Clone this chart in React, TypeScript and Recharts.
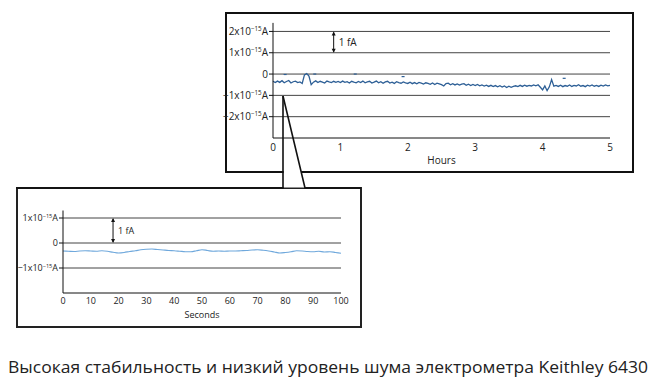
import React from "react"
import {
  ComposedChart,
  Line,
  LineChart,
  ReferenceLine,
  Scatter,
  XAxis,
  YAxis,
} from "recharts"

// long run, current in fA, sampled every 2 minutes over 5 hours
const TOP_VALUES = [
  -0.34, -0.4, -0.33, -0.39, -0.31, -0.41, -0.35, -0.3, -0.42, -0.36, -0.33, -0.4, -0.37, -0.44, -0.04,
  0.02, -0.1, -0.5, -0.38, -0.32, -0.4, -0.34, -0.38, -0.42, -0.33, -0.37, -0.4, -0.34, -0.39, -0.35,
  -0.4, -0.33, -0.39, -0.36, -0.42, -0.34, -0.38, -0.41, -0.35, -0.4, -0.33, -0.41, -0.37, -0.34, -0.42,
  -0.38, -0.33, -0.41, -0.36, -0.43, -0.37, -0.34, -0.42, -0.38, -0.44, -0.36, -0.4, -0.43, -0.37, -0.41,
  -0.44, -0.38, -0.45, -0.4, -0.46, -0.39, -0.43, -0.47, -0.41, -0.44, -0.48, -0.42, -0.49, -0.43, -0.46,
  -0.5, -0.56, -0.45, -0.43, -0.5, -0.45, -0.51, -0.46, -0.52, -0.47, -0.45, -0.53, -0.48, -0.54, -0.49,
  -0.54, -0.49, -0.55, -0.51, -0.56, -0.52, -0.58, -0.53, -0.59, -0.54, -0.6, -0.55, -0.61, -0.56, -0.63,
  -0.57, -0.62, -0.58, -0.55, -0.59, -0.53, -0.58, -0.52, -0.57, -0.53, -0.56, -0.51, -0.55, -0.5, -0.62,
  -0.74, -0.56, -0.78, -0.6, -0.26, -0.57, -0.53, -0.58, -0.52, -0.59, -0.54, -0.57, -0.51, -0.58, -0.53,
  -0.56, -0.5, -0.57, -0.54, -0.59, -0.52, -0.56, -0.51, -0.57, -0.53, -0.58, -0.52, -0.56, -0.51, -0.55,
  -0.53,
]
const TOP_HOURS_MAX = 5

// stray single readings
const OUTLIER_HOURS = [0.18, 0.62, 1.22, 1.93, 4.32]
const OUTLIER_VALUES = [-0.02, 0.0, 0.0, -0.12, -0.2]

// zoomed run, current in fA, every 2 seconds over 100 s
const BOTTOM_VALUES = [
  -0.32, -0.33, -0.34, -0.32, -0.31, -0.32, -0.33, -0.31, -0.33, -0.37, -0.4, -0.38, -0.34, -0.31, -0.27,
  -0.25, -0.24, -0.26, -0.28, -0.3, -0.31, -0.33, -0.35, -0.35, -0.31, -0.27, -0.3, -0.33, -0.32, -0.33,
  -0.32, -0.32, -0.31, -0.3, -0.28, -0.27, -0.29, -0.32, -0.36, -0.4, -0.38, -0.35, -0.31, -0.32, -0.34,
  -0.35, -0.33, -0.36, -0.35, -0.38, -0.41,
]
const BOTTOM_SECONDS_MAX = 100

const TOP_X_TICKS = [0, 1, 2, 3, 4, 5]
const TOP_Y_TICKS = [-2, -1, 0, 1, 2]
const BOTTOM_X_TICKS = [0, 10, 20, 30, 40, 50, 60, 70, 80, 90, 100]
const BOTTOM_Y_TICKS = [-1, 0, 1]

const CAPTION = "Высокая стабильность и низкий уровень шума электрометра Keithley 6430"

const FONT = "'Open Sans', sans-serif"

const topData = TOP_VALUES.map((v, i) => ({ t: (i * TOP_HOURS_MAX) / (TOP_VALUES.length - 1), v }))
const outlierData = OUTLIER_HOURS.map((t, i) => ({ t, v: OUTLIER_VALUES[i] }))
const bottomData = BOTTOM_VALUES.map((v, i) => ({ t: (i * BOTTOM_SECONDS_MAX) / (BOTTOM_VALUES.length - 1), v }))

function AmpTick({ x, y, payload, size }: any) {
  const v = payload.value
  if (v === 0) {
    return (
      <text x={x} y={y} dy={size * 0.35} textAnchor="end" fontSize={size} fill="#222" fontFamily={FONT}>
        0
      </text>
    )
  }
  const mant = `${v < 0 ? "−" : ""}${Math.abs(v)}x10`
  return (
    <text x={x} y={y} dy={size * 0.35} textAnchor="end" fontSize={size} fill="#222" fontFamily={FONT}>
      <tspan>{mant}</tspan>
      <tspan fontSize={size * 0.62} dy={-size * 0.38}>
        −15
      </tspan>
      <tspan dy={size * 0.38}>A</tspan>
    </text>
  )
}

function FaArrow(props: any) {
  const { x1, y1, x2, y2, fontSize } = props
  const x = x1
  const top = Math.min(y1, y2)
  const bot = Math.max(y1, y2)
  return (
    <g>
      <line x1={x} y1={top + 1} x2={x} y2={bot - 1} stroke="#111" strokeWidth={1} />
      <path d={`M${x - 2},${top + 4} L${x},${top} L${x + 2},${top + 4} Z`} fill="#111" />
      <path d={`M${x - 2},${bot - 4} L${x},${bot} L${x + 2},${bot - 4} Z`} fill="#111" />
      <text x={x + 5} y={(top + bot) / 2 + fontSize * 0.35} fontSize={fontSize} fill="#222" fontFamily={FONT}>
        1 fA
      </text>
    </g>
  )
}

function Dash({ cx, cy }: any) {
  return <line x1={cx - 1.5} y1={cy} x2={cx + 1.5} y2={cy} stroke="#2d5f96" strokeWidth={1.2} />
}

export default function App() {
  return (
    <div style={{ position: "absolute", left: 0, top: 0, width: 651, height: 388, background: "#fff" }}>
      {/* frames */}
      <div
        style={{
          position: "absolute",
          left: 225,
          top: 12,
          width: 409,
          height: 161,
          border: "2px solid #111",
          boxSizing: "border-box",
        }}
      />
      <div
        style={{
          position: "absolute",
          left: 16,
          top: 187,
          width: 346,
          height: 141,
          border: "2px solid #222",
          boxSizing: "border-box",
        }}
      />

      {/* 5 hour run */}
      <div style={{ position: "absolute", left: 0, top: 0 }}>
        <ComposedChart
          width={651}
          height={388}
          data={topData}
          margin={{ top: 22.9, right: 41, bottom: 220, left: 213 }}
        >
          <XAxis
            dataKey="t"
            type="number"
            domain={[0, 5]}
            ticks={TOP_X_TICKS}
            interval={0}
            height={30}
            stroke="#111"
            tickLine={false}
            tickSize={4}
            tickMargin={2}
            tick={{ fontSize: 10, fill: "#222", fontFamily: FONT }}
            label={{ value: "Hours", position: "insideBottom", offset: 4, fontSize: 10, fill: "#222", fontFamily: FONT }}
          />
          <YAxis
            type="number"
            domain={[-3, 2.4]}
            ticks={TOP_Y_TICKS}
            interval={0}
            width={60}
            stroke="#111"
            tickSize={4}
            tickMargin={1}
            tick={<AmpTick size={10} />}
          />
          {TOP_Y_TICKS.map((v) => (
            <ReferenceLine key={v} y={v} stroke="#444" strokeWidth={1} />
          ))}
          <ReferenceLine
            segment={[
              { x: 0.9, y: 1 },
              { x: 0.9, y: 2 },
            ]}
            shape={(p: any) => <FaArrow {...p} fontSize={10} />}
          />
          <Line
            dataKey="v"
            type="linear"
            stroke="#2d5f96"
            strokeWidth={1.3}
            dot={false}
            isAnimationActive={false}
          />
          <Scatter data={outlierData} dataKey="v" shape={<Dash />} isAnimationActive={false} />
        </ComposedChart>
      </div>

      {/* 100 second detail */}
      <div style={{ position: "absolute", left: 0, top: 0 }}>
        <LineChart
          width={651}
          height={388}
          data={bottomData}
          margin={{ top: 210.5, right: 310, bottom: 65, left: 13 }}
        >
          <XAxis
            dataKey="t"
            type="number"
            domain={[0, 100]}
            ticks={BOTTOM_X_TICKS}
            interval={0}
            height={30}
            stroke="#111"
            tickLine={false}
            tickSize={4}
            tickMargin={1}
            tick={{ fontSize: 9, fill: "#222", fontFamily: FONT }}
            label={{ value: "Seconds", position: "insideBottom", offset: 5, fontSize: 9, fill: "#222", fontFamily: FONT }}
          />
          <YAxis
            type="number"
            domain={[-2, 1.3]}
            ticks={BOTTOM_Y_TICKS}
            interval={0}
            width={50}
            stroke="#111"
            tickSize={4}
            tickMargin={1}
            tick={<AmpTick size={9} />}
          />
          {BOTTOM_Y_TICKS.map((v) => (
            <ReferenceLine key={v} y={v} stroke="#444" strokeWidth={1} />
          ))}
          <ReferenceLine
            segment={[
              { x: 18, y: 0 },
              { x: 18, y: 1 },
            ]}
            shape={(p: any) => <FaArrow {...p} fontSize={9} />}
          />
          <Line
            dataKey="v"
            type="monotone"
            stroke="#6fa8dc"
            strokeWidth={1.2}
            dot={false}
            isAnimationActive={false}
          />
        </LineChart>
      </div>

      {/* callout connecting the two panels, and caption */}
      <svg width={651} height={388} style={{ position: "absolute", left: 0, top: 0, pointerEvents: "none" }}>
        <polygon points="283.6,150 296,150 305,187.5 283.6,187.5" fill="#fff" />
        <polyline points="283,96 283,188 16,188" fill="none" stroke="#111" strokeWidth={1.6} />
        <polyline points="283,96 305,188 361,188" fill="none" stroke="#111" strokeWidth={1.6} />
        <text x={8} y={373} fontSize={17} fill="#222" fontFamily={FONT} textLength={640} lengthAdjust="spacingAndGlyphs">
          {CAPTION}
        </text>
      </svg>
    </div>
  )
}
